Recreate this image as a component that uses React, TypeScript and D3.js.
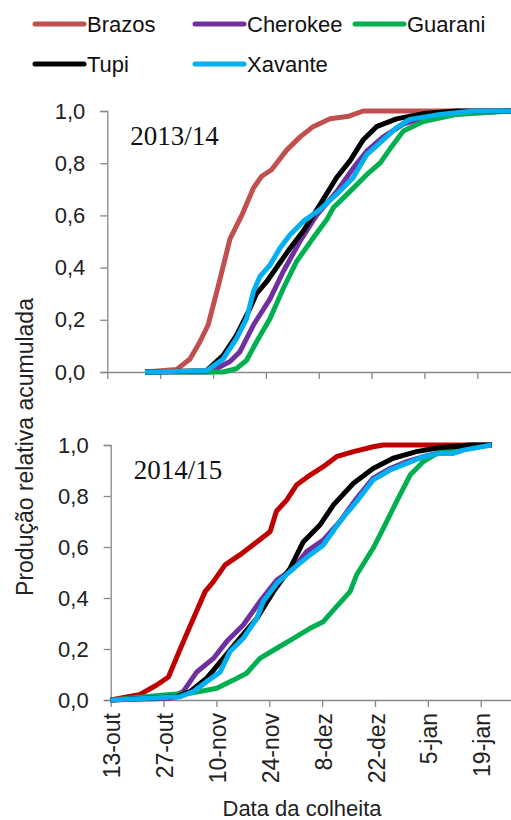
import React, { useEffect, useRef } from "react";
import * as d3 from "d3";

// days counted from 13-out
const tickDays = [0, 14, 28, 42, 56, 70, 84, 98];
const tickLabels = ["13-out", "27-out", "10-nov", "24-nov", "8-dez", "22-dez", "5-jan", "19-jan"];
const yTicks = [0, 0.2, 0.4, 0.6, 0.8, 1.0];
const cultivars = ["Brazos", "Cherokee", "Guarani", "Tupi", "Xavante"];

// 2013/14 season: [day, relative cumulative production]
const brazos13 = [[10, 0], [18.4, 0.01], [21.9, 0.05], [24.5, 0.115], [26.7, 0.18], [29.4, 0.33], [32.5, 0.51], [35.6, 0.6], [38.7, 0.705], [40.9, 0.75], [43.5, 0.775], [47.5, 0.85], [51, 0.9], [54.5, 0.94], [59, 0.97], [64, 0.98], [67.8, 1], [107, 1]];
const cherokee13 = [[10, 0], [27.2, 0], [32.5, 0.04], [35.1, 0.077], [38.7, 0.18], [43.1, 0.28], [46.6, 0.385], [51, 0.5], [55.4, 0.6], [60.7, 0.69], [65.1, 0.78], [68.7, 0.846], [73, 0.9], [78.4, 0.95], [83.7, 0.974], [92.5, 0.99], [107, 1]];
const guarani13 = [[10, 0], [30.7, 0], [34.2, 0.013], [36.9, 0.045], [39.5, 0.115], [43.1, 0.205], [46.6, 0.32], [50.1, 0.423], [54.5, 0.513], [58.1, 0.583], [59.8, 0.628], [64.3, 0.692], [68.7, 0.756], [72.2, 0.8], [74.8, 0.853], [78.4, 0.923], [83.7, 0.96], [92.5, 0.987], [107, 1]];
const tupi13 = [[10, 0], [26.3, 0.005], [30.7, 0.064], [34.2, 0.14], [37.8, 0.244], [39.5, 0.3], [42.2, 0.346], [45.3, 0.41], [48.4, 0.474], [51.9, 0.54], [56.3, 0.64], [60.7, 0.744], [64.3, 0.81], [67.8, 0.89], [71.3, 0.94], [76.6, 0.97], [83.7, 0.99], [92.5, 1], [107, 1]];
const xavante13 = [[10, 0], [26.3, 0.005], [30.7, 0.05], [34.2, 0.128], [36.9, 0.205], [38.7, 0.308], [40.4, 0.365], [43.1, 0.41], [45.7, 0.474], [48.4, 0.526], [51.9, 0.577], [56.3, 0.622], [60.7, 0.68], [65.1, 0.744], [68.7, 0.833], [72.2, 0.878], [76.6, 0.936], [80.1, 0.968], [88.1, 0.987], [96.9, 1], [107, 1]];

// 2014/15 season
const brazos14 = [[0, 0], [7.8, 0.022], [12.2, 0.059], [15.3, 0.09], [18.4, 0.2], [21.9, 0.32], [25, 0.425], [27.2, 0.464], [30.3, 0.53], [34.2, 0.569], [38.7, 0.62], [42.2, 0.66], [43.9, 0.74], [46.6, 0.784], [49.2, 0.843], [52.8, 0.882], [56.3, 0.915], [59.8, 0.954], [64.3, 0.974], [69.5, 0.993], [72.2, 1], [100.9, 1]];
const cherokee14 = [[0, 0], [15.7, 0.007], [19.2, 0.033], [22.8, 0.11], [27.2, 0.163], [30.7, 0.229], [35.1, 0.294], [39.5, 0.386], [44, 0.47], [48.4, 0.516], [51.9, 0.582], [56.3, 0.627], [60.7, 0.7], [65.1, 0.79], [69.5, 0.87], [74, 0.908], [78.4, 0.935], [82.8, 0.954], [88.1, 0.974], [96, 0.997], [100.9, 1]];
const guarani14 = [[0, 0], [15.7, 0.022], [21, 0.026], [28.1, 0.046], [32.5, 0.078], [36, 0.105], [39.5, 0.163], [44, 0.203], [48.4, 0.242], [52.8, 0.281], [56.3, 0.307], [59.8, 0.366], [63.4, 0.425], [65.1, 0.49], [69.5, 0.595], [72.2, 0.673], [75.7, 0.778], [79.3, 0.882], [82.8, 0.935], [87.2, 0.974], [91.6, 0.987], [100.9, 1]];
const tupi14 = [[0, 0], [17.5, 0.013], [21, 0.033], [25.4, 0.085], [29.8, 0.163], [34.2, 0.242], [38.7, 0.32], [43.1, 0.425], [47.5, 0.516], [51, 0.62], [55.4, 0.686], [59, 0.765], [64.3, 0.85], [69.5, 0.908], [74.8, 0.948], [81, 0.974], [87.2, 0.99], [93.4, 0.996], [95.1, 1], [100.9, 1]];
const xavante14 = [[0, 0], [18.4, 0.013], [21.9, 0.033], [25.4, 0.072], [29, 0.11], [31.6, 0.19], [35.1, 0.242], [38.7, 0.32], [40.4, 0.386], [44, 0.457], [48.4, 0.516], [52.8, 0.569], [56.3, 0.608], [60.7, 0.7], [65.1, 0.778], [69.5, 0.863], [74, 0.902], [78.4, 0.928], [82.8, 0.954], [87.2, 0.967], [90.7, 0.967], [93.4, 0.98], [100.9, 1]];

const colors13: Record<string, string> = { Brazos: "#C0504D", Cherokee: "#7030A0", Guarani: "#00B050", Tupi: "#000000", Xavante: "#00B0F0" };
const colors14: Record<string, string> = { Brazos: "#C00000", Cherokee: "#7030A0", Guarani: "#00B050", Tupi: "#000000", Xavante: "#00B0F0" };

const W = 511;
const H = 820;
const sans = "'Liberation Sans', Arial, sans-serif";

export default function App() {
  const ref = useRef<SVGSVGElement>(null);

  useEffect(() => {
    const svg = d3.select(ref.current);
    svg.selectAll("*").remove();

    const panels = [
      { label: "2013/14", x0: 107.3, yTop: 111, yBot: 372, series: [brazos13, cherokee13, guarani13, tupi13, xavante13], colors: colors13, showLabels: false },
      { label: "2014/15", x0: 110.7, yTop: 445, yBot: 700, series: [brazos14, cherokee14, guarani14, tupi14, xavante14], colors: colors14, showLabels: true },
    ];
    const dayPx = 52.86 / 14;

    panels.forEach((p) => {
      const x = d3.scaleLinear().domain([0, (W - p.x0) / dayPx]).range([p.x0, W]);
      const y = d3.scaleLinear().domain([0, 1]).range([p.yBot, p.yTop]);
      const g = svg.append("g");

      // y axis
      const ya = g.append("g").attr("transform", `translate(${p.x0},0)`)
        .call(d3.axisLeft(y).tickValues(yTicks).tickSize(7).tickFormat((d) => d3.format(".1f")(d as number).replace(".", ",")));
      ya.select(".domain").attr("stroke", "#888").attr("stroke-width", 1.3);
      ya.selectAll(".tick line").attr("stroke", "#888").attr("stroke-width", 1.3);
      ya.selectAll(".tick text").attr("font-family", sans).attr("font-size", 22).attr("fill", "#222").attr("x", -22);

      // x axis
      const xa = g.append("g").attr("transform", `translate(0,${p.yBot})`)
        .call(d3.axisBottom(x).tickValues(tickDays).tickSize(7).tickSizeOuter(0).tickFormat((d, i) => (p.showLabels ? tickLabels[i] : "")));
      xa.select(".domain").attr("stroke", "#888").attr("stroke-width", 1.3);
      xa.selectAll(".tick line").attr("stroke", "#888").attr("stroke-width", 1.3);
      xa.selectAll(".tick text")
        .attr("font-family", sans).attr("font-size", 23).attr("fill", "#222")
        .attr("transform", "rotate(-90)")
        .attr("text-anchor", "end")
        .attr("x", -13).attr("y", 1).attr("dy", "0.35em");

      const line = d3.line<number[]>().x((d) => x(d[0])).y((d) => y(d[1])).curve(d3.curveLinear);
      p.series.forEach((s, i) => {
        g.append("path").datum(s)
          .attr("d", line)
          .attr("fill", "none")
          .attr("stroke", p.colors[cultivars[i]])
          .attr("stroke-width", 5)
          .attr("stroke-linejoin", "round");
      });

      g.append("text").attr("x", p.x0 + 23).attr("y", p.yTop + 34)
        .attr("font-family", "'Liberation Serif', 'Times New Roman', serif").attr("font-size", 27).attr("fill", "#111")
        .text(p.label);
    });

    // legend
    const legendPos = [[35, 24], [195, 24], [355, 24], [35, 64], [195, 64]];
    cultivars.forEach((c, i) => {
      const [lx, ly] = legendPos[i];
      svg.append("line").attr("x1", lx).attr("x2", lx + 49).attr("y1", ly).attr("y2", ly)
        .attr("stroke", colors13[c]).attr("stroke-width", 5).attr("stroke-linecap", "round");
      svg.append("text").attr("x", lx + 52).attr("y", ly).attr("dy", "0.36em")
        .attr("font-family", sans).attr("font-size", 22).attr("fill", "#111").text(c);
    });

    // axis titles
    svg.append("text").attr("transform", "translate(33,447) rotate(-90)")
      .attr("text-anchor", "middle").attr("font-family", sans).attr("font-size", 23).attr("fill", "#222")
      .text("Produção relativa acumulada");
    svg.append("text").attr("x", 302).attr("y", 816)
      .attr("text-anchor", "middle").attr("font-family", sans).attr("font-size", 22).attr("fill", "#222")
      .text("Data da colheita");
  }, []);

  return <svg ref={ref} width={W} height={H} style={{ position: "absolute", left: 0, top: 0, background: "#fff" }} />;
}
